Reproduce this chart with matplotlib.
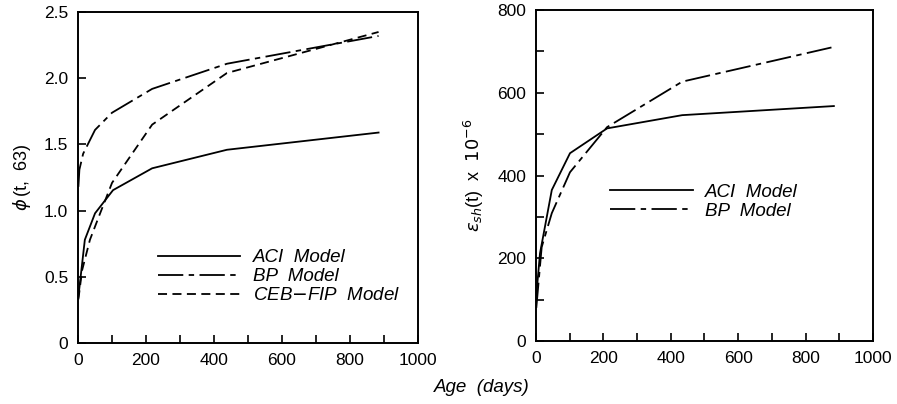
import matplotlib
matplotlib.use("Agg")
import matplotlib.pyplot as plt

#------------------------------------------------------------------------------
#data, creep coefficient panel (age in days)

aci_creep_age = [1, 20, 50, 103, 218, 438, 884]
aci_creep = [0.35, 0.78, 0.98, 1.155, 1.32, 1.46, 1.59]

bp_creep_age = [1, 4, 15, 50, 100, 218, 438, 884]
bp_creep = [1.18, 1.31, 1.43, 1.61, 1.74, 1.92, 2.11, 2.32]

ceb_creep_age = [1, 12, 35, 65, 100, 218, 438, 884]
ceb_creep = [0.33, 0.55, 0.78, 0.98, 1.21, 1.65, 2.04, 2.35]

#shrinkage strain panel (x 10^-6)
aci_shr_age = [1, 12, 47, 101, 211, 434, 884]
aci_shr = [110, 212, 365, 454, 514, 546, 568]

bp_shr_age = [1, 17, 47, 101, 211, 434, 884]
bp_shr = [80, 227, 309, 408, 517, 627, 711]

#------------------------------------------------------------------------------

plt.rcParams['font.family'] = ['Liberation Sans', 'DejaVu Sans']
plt.rcParams['mathtext.fontset'] = 'dejavusans'

fig = plt.figure(figsize=(8.97, 4.04), dpi=100)
ax1 = fig.add_axes([0.087, 0.151, 0.379, 0.819])
ax2 = fig.add_axes([0.5975, 0.156, 0.3757, 0.819])

bp_dash = (0, (14, 3, 3, 3))
ceb_dash = (0, (5, 3))

ax1.plot(aci_creep_age, aci_creep, color='black', lw=1.3, label='ACI  Model')
ax1.plot(bp_creep_age, bp_creep, color='black', lw=1.3, linestyle=bp_dash, label='BP  Model')
ax1.plot(ceb_creep_age, ceb_creep, color='black', lw=1.3, linestyle=ceb_dash, label='CEB$-$FIP  Model')

ax2.plot(aci_shr_age, aci_shr, color='black', lw=1.3, label='ACI  Model')
ax2.plot(bp_shr_age, bp_shr, color='black', lw=1.3, linestyle=bp_dash, label='BP  Model')

#axes limits and ticks
ax1.set_xlim(0, 1000)
ax1.set_ylim(0, 2.5)
ax1.set_yticks([0, 0.5, 1.0, 1.5, 2.0, 2.5])
ax1.set_yticklabels(['0', '0.5', '1.0', '1.5', '2.0', '2.5'])

ax2.set_xlim(0, 1000)
ax2.set_ylim(0, 800)
ax2.set_yticks([0, 200, 400, 600, 800])
ax2.set_yticks(range(0, 801, 100), minor=True)

for ax in (ax1, ax2):
    ax.set_xticks([0, 200, 400, 600, 800, 1000])
    ax.set_xticks(range(0, 1001, 100), minor=True)
    ax.tick_params(which='both', direction='in', length=6, width=1.2, labelsize=12.5, pad=7)
    for s in ax.spines.values():
        s.set_linewidth(1.4)

ax1.set_ylabel(r'$\phi\,$(t,  63)', fontsize=13, labelpad=8)
ax2.set_ylabel(r'$\varepsilon_{sh}$(t)  x  $10^{-6}$', fontsize=13, labelpad=8)

fig.text(0.537, 0.04, 'Age  (days)', fontsize=13.5, style='italic', ha='center', va='center')

#legends
leg1 = ax1.legend(loc='upper left', bbox_to_anchor=(0.235, 0.284), frameon=False,
                  handlelength=4.4, handletextpad=0.65, labelspacing=0.1,
                  borderpad=0, borderaxespad=0, prop={'size': 13.5, 'style': 'italic'})
leg2 = ax2.legend(loc='upper left', bbox_to_anchor=(0.22, 0.475), frameon=False,
                  handlelength=4.4, handletextpad=0.65, labelspacing=0.1,
                  borderpad=0, borderaxespad=0, prop={'size': 13.5, 'style': 'italic'})

fig.savefig('out.png', dpi=100)
